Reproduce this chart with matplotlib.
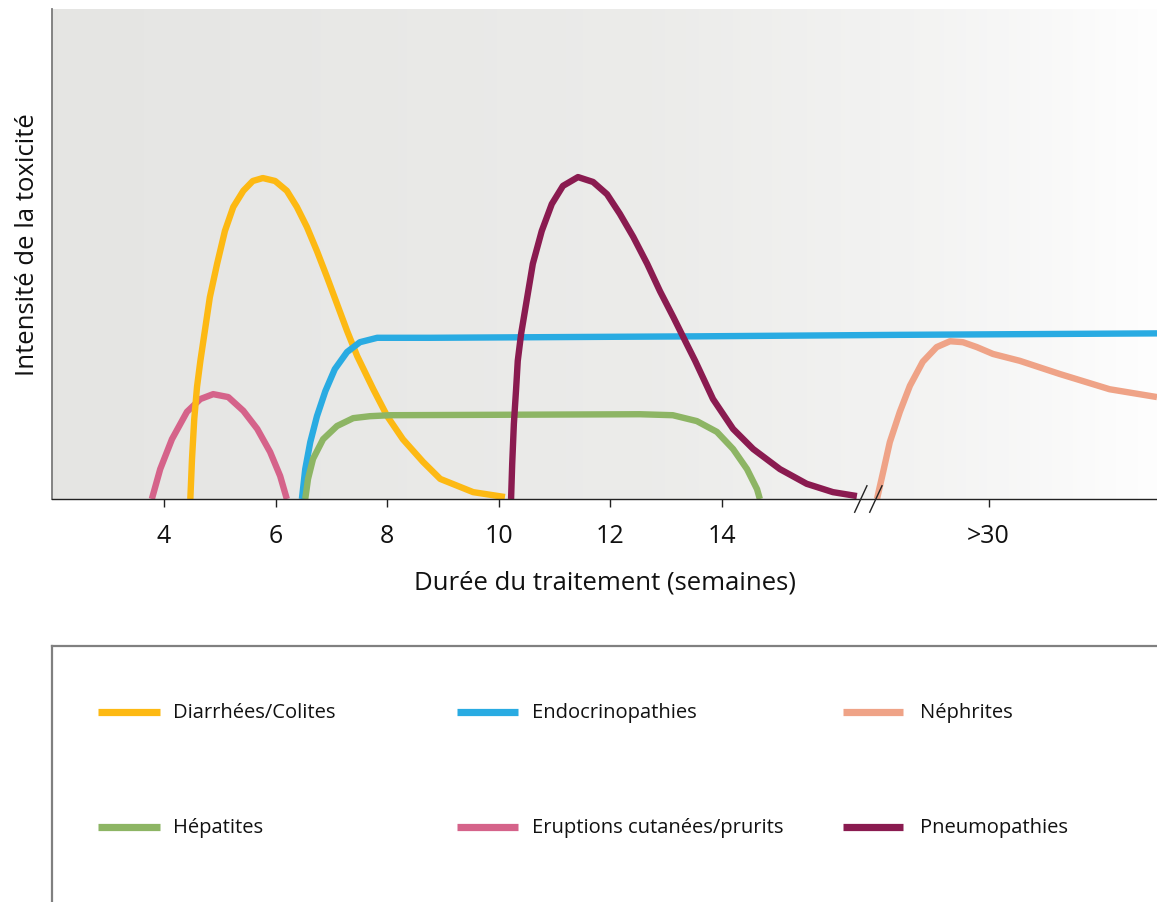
import numpy as np
import matplotlib
matplotlib.use("Agg")
import matplotlib.pyplot as plt
from matplotlib.lines import Line2D
from matplotlib.colors import LinearSegmentedColormap
import matplotlib.transforms as mtransforms

# ---- data (x in weeks on a linear scale, y = relative intensity 0-100) ----
tick_positions = [4, 6, 8, 10, 12, 14, 18.78]
tick_labels = ["4", "6", "8", "10", "12", "14", ">30"]
break_positions = [16.49, 16.76]

diarrhees_x = [4.47, 4.50, 4.54, 4.59, 4.65, 4.73, 4.82, 4.95, 5.09, 5.24, 5.42, 5.59, 5.77, 5.99, 6.20,
               6.38, 6.56, 6.74, 6.92, 7.10, 7.28, 7.46, 7.75, 8.00, 8.28, 8.64, 8.95, 9.54, 10.11]
diarrhees_y = [0.0, 8.2, 16.3, 22.9, 28.2, 34.3, 41.2, 48.0, 54.7, 59.6, 62.9, 64.9, 65.5, 64.9, 62.9,
               59.6, 55.5, 50.6, 45.3, 39.8, 34.3, 29.2, 22.4, 16.9, 12.2, 7.6, 4.1, 1.4, 0.4]

endocrino_x = [6.47, 6.53, 6.62, 6.74, 6.89, 7.06, 7.28, 7.51, 7.82, 8.05, 8.77, 13.61, 17.19, 21.80]
endocrino_y = [0.0, 6.1, 11.6, 16.9, 22.0, 26.5, 30.0, 32.0, 32.9, 32.9, 32.9, 33.2, 33.5, 33.8]

nephrites_x = [16.78, 16.89, 17.01, 17.19, 17.37, 17.60, 17.85, 18.09, 18.32, 18.57, 18.86, 19.34, 20.06, 20.95, 21.80]
nephrites_y = [0.0, 5.5, 11.6, 17.8, 23.1, 28.0, 31.0, 32.2, 32.0, 31.0, 29.6, 28.2, 25.5, 22.4, 20.8]

hepatites_x = [6.53, 6.58, 6.67, 6.85, 7.10, 7.39, 7.69, 8.05, 12.53, 13.12, 13.55, 13.91, 14.20, 14.45, 14.63, 14.68]
hepatites_y = [0.0, 4.1, 8.2, 12.2, 14.9, 16.5, 16.9, 17.1, 17.3, 17.1, 15.9, 13.7, 10.2, 6.1, 2.0, 0.0]

eruptions_x = [3.78, 3.93, 4.14, 4.41, 4.65, 4.88, 5.15, 5.42, 5.67, 5.90, 6.08, 6.20]
eruptions_y = [0.0, 6.1, 12.2, 17.8, 20.4, 21.4, 20.8, 18.0, 14.3, 9.6, 4.7, 0.0]

pneumo_x = [10.22, 10.24, 10.27, 10.31, 10.34, 10.40, 10.51, 10.61, 10.77, 10.95, 11.15, 11.42, 11.69, 11.94, 12.17,
            12.41, 12.66, 12.89, 13.13, 13.37, 13.52, 13.84, 14.20, 14.56, 15.04, 15.52, 15.99, 16.42]
pneumo_y = [0.0, 7.1, 15.3, 22.4, 28.2, 33.7, 41.2, 48.0, 54.7, 60.2, 63.9, 65.7, 64.7, 62.2, 58.2,
            53.5, 48.0, 42.4, 37.1, 31.6, 28.2, 20.4, 14.3, 10.2, 6.1, 3.1, 1.4, 0.6]

series_names = ["Diarrhées/Colites", "Endocrinopathies", "Néphrites",
                "Hépatites", "Eruptions cutanées/prurits", "Pneumopathies"]
series_x = [diarrhees_x, endocrino_x, nephrites_x, hepatites_x, eruptions_x, pneumo_x]
series_y = [diarrhees_y, endocrino_y, nephrites_y, hepatites_y, eruptions_y, pneumo_y]
series_colors = ["#FDB913", "#29ABE2", "#EFA387", "#8DB564", "#D5638A", "#8A1B50"]
draw_order = [4, 0, 1, 3, 5, 2]

FONT = ["Open Sans", "DejaVu Sans"]

W, H = 1157, 903
fig = plt.figure(figsize=(W / 100, H / 100), dpi=100)
fig.patch.set_facecolor("white")

ax = fig.add_axes([52 / W, (H - 500) / H, (1157 - 52) / W, 490 / H])
ax.set_xlim(1.99, 21.80)
ax.set_ylim(0, 100)

# gradient background
cmap = LinearSegmentedColormap.from_list(
    "bg", [(0.0, (0.898, 0.898, 0.890)), (0.55, (0.925, 0.925, 0.918)),
           (0.8, (0.955, 0.955, 0.952)), (1.0, (0.995, 0.995, 0.995))])
grad = np.linspace(0, 1, 256).reshape(1, -1)
ax.imshow(grad, extent=[0, 1, 0, 1], transform=ax.transAxes, cmap=cmap,
          aspect="auto", zorder=0, interpolation="bicubic")
ax.set_facecolor("none")

for i in draw_order:
    ax.plot(series_x[i], series_y[i], color=series_colors[i], lw=4.6,
            solid_capstyle="butt", solid_joinstyle="round", zorder=3)

for s in ["top", "right"]:
    ax.spines[s].set_visible(False)
ax.spines["left"].set_color("#7a7a7a")
ax.spines["left"].set_linewidth(1.3)
ax.spines["bottom"].set_color("#222222")
ax.spines["bottom"].set_linewidth(1.0)
ax.spines["bottom"].set_zorder(5)

ax.set_yticks([])
ax.set_xticks(tick_positions)
ax.set_xticklabels(tick_labels, fontsize=18, family=FONT, color="#111111")
ax.tick_params(axis="x", direction="out", length=6, width=1.0, color="#222222", pad=11)

ax.set_xlabel("Durée du traitement (semaines)", fontsize=18.5, family=FONT,
              color="#111111", labelpad=16)
ax.set_ylabel("Intensité de la toxicité", fontsize=18.5, family=FONT, color="#111111")
ax.yaxis.set_label_coords(-0.011, 0.522)

# axis break marks
trans = mtransforms.blended_transform_factory(ax.transData, ax.transAxes)
for bx in break_positions:
    ax.plot([bx - 0.11, bx + 0.11], [-0.027, 0.027], color="#222222", lw=1.0,
            transform=trans, clip_on=False, zorder=6)

# legend frame
fig.add_artist(Line2D([52 / W, 1.0], [(H - 647) / H] * 2, color="#808080", lw=1.6))
fig.add_artist(Line2D([52 / W] * 2, [(H - 647) / H, 0.0], color="#808080", lw=1.6))

col_x = [(98, 160, 173), (457, 518, 532), (843, 903, 920)]
row_y = [713, 828]
for k, name in enumerate(series_names):
    r, c = divmod(k, 3)
    x0, x1, xt = col_x[c]
    yy = (H - row_y[r]) / H
    fig.add_artist(Line2D([x0 / W, x1 / W], [yy, yy], color=series_colors[k], lw=5.2,
                          solid_capstyle="butt"))
    fig.text(xt / W, yy, name, fontsize=14.5, va="center", ha="left", color="#111111",
             family=FONT)

fig.savefig("out.png", dpi=100)
